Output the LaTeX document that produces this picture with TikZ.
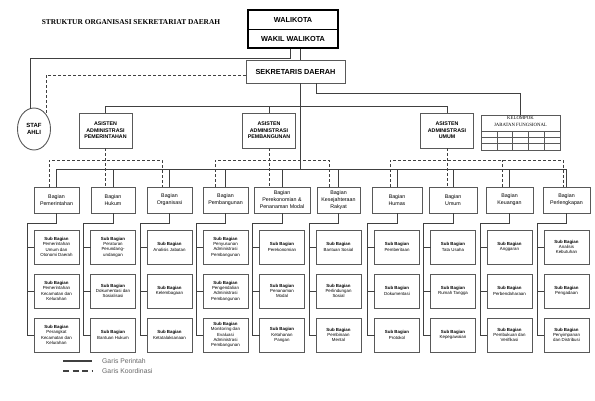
\documentclass[tikz,border=0pt]{standalone}
\usepackage{fontspec}
\setmainfont{Liberation Sans}
\newfontfamily\judulfont{Liberation Serif}
\usepackage{tikz}
\usetikzlibrary{
    shapes.geometric,
    positioning,
    calc,
    fit
}

\begin{document}
\begin{tikzpicture}[
    x=1pt, y=-1pt,
    every text node part/.style={align=center},
    box/.style={draw=black!65, line width=0.9pt, fill=white, inner sep=1.5pt, outer sep=0pt},
    kepala/.style={box, draw=black, line width=0.8pt, minimum width=90pt, minimum height=19pt, font=\fontsize{7.3}{8}\selectfont\bfseries},
    sekbox/.style={box, minimum width=99pt, minimum height=23pt, font=\fontsize{7.3}{8}\selectfont\bfseries},
    asbox/.style={box, minimum width=53pt, minimum height=35pt, font=\fontsize{5.3}{6.5}\selectfont\bfseries},
    bagbox/.style={box, minimum height=26pt, font=\fontsize{5.3}{7}\selectfont},
    subbox/.style={box, minimum width=45pt, minimum height=34pt, font=\fontsize{4.4}{5.4}\selectfont},
    perintah/.style={draw=black!75, line width=0.7pt},
    koordinasi/.style={perintah, dash pattern=on 3pt off 2pt},
    legenda/.style={text=black!60, font=\fontsize{6.8}{8}\selectfont, inner sep=0pt}
]
\useasboundingbox (0,0) rectangle (595,400);

% ==================== JUDUL ====================
\node[font=\judulfont\fontsize{7.4}{9}\selectfont\bfseries] (judul) at (131,22) {STRUKTUR ORGANISASI SEKRETARIAT DAERAH};

% ==================== KEPALA DAERAH ====================
\node[kepala] (walikota) at (293,19.5) {WALIKOTA};
\node[kepala, below=0pt of walikota] (wakil) {WAKIL WALIKOTA};
\node[draw=black, line width=2.4pt, inner sep=0pt, fit=(walikota)(wakil)] (kepala_daerah) {};

\node[sekbox] (sekda) at (295.5,71.5) {SEKRETARIS DAERAH};

\node[box, ellipse, minimum width=33pt, minimum height=42pt, inner sep=0pt, font=\fontsize{6}{7.5}\selectfont\bfseries] (staf_ahli) at (34,129) {STAF\\AHLI};

% ==================== ASISTEN ====================
\node[asbox] (asst_pem) at (105.5,130.5) {ASISTEN\\ADMINISTRASI\\PEMERINTAHAN};
\node[asbox] (asst_pbg) at (269,130.5) {ASISTEN\\ADMINISTRASI\\PEMBANGUNAN};
\node[asbox] (asst_umum) at (447,130.5) {ASISTEN\\ADMINISTRASI\\UMUM};

% kelompok jabatan fungsional
\node[box, minimum width=79pt, minimum height=35pt] (kel_jf) at (520.5,132.5) {};
\node[below=1pt of kel_jf.north, inner sep=0pt, font=\judulfont\fontsize{4.8}{7}\selectfont] (kjf_judul) {KELOMPOK\\JABATAN FUNGSIONAL};
\draw[draw=black!65, line width=0.6pt]
    ($(kel_jf.north west)+(0,16)$) -- ($(kel_jf.north east)+(0,16)$)
    ($(kel_jf.north west)+(0,22.3)$) -- ($(kel_jf.north east)+(0,22.3)$)
    ($(kel_jf.north west)+(0,28.6)$) -- ($(kel_jf.north east)+(0,28.6)$)
    ($(kel_jf.north west)+(15.8,16)$) -- ($(kel_jf.south west)+(15.8,0)$)
    ($(kel_jf.north west)+(31.6,16)$) -- ($(kel_jf.south west)+(31.6,0)$)
    ($(kel_jf.north west)+(47.4,16)$) -- ($(kel_jf.south west)+(47.4,0)$)
    ($(kel_jf.north west)+(63.2,16)$) -- ($(kel_jf.south west)+(63.2,0)$);

% ==================== BAGIAN ====================
\node[bagbox, minimum width=45pt] (bag_pem) at (56.5,200) {Bagian\\Pemerintahan};
\node[bagbox, minimum width=44pt, right=12pt of bag_pem] (bag_hukum) {Bagian\\Hukum};
\node[bagbox, minimum width=45pt, right=12pt of bag_hukum] (bag_org) {Bagian\\Organisasi};
\node[bagbox, minimum width=45pt, right=11pt of bag_org] (bag_pbg) {Bagian\\Pembangunan};
\node[bagbox, minimum width=56pt, right=6pt of bag_pbg] (bag_eko) {Bagian\\Perekonomian \&\\Penanaman Modal};
\node[bagbox, minimum width=43pt, right=7pt of bag_eko] (bag_kesra) {Bagian\\Kesejahteraan\\Rakyat};
\node[bagbox, minimum width=50pt, right=12pt of bag_kesra] (bag_humas) {Bagian\\Humas};
\node[bagbox, minimum width=48pt, right=7pt of bag_humas] (bag_umum) {Bagian\\Umum};
\node[bagbox, minimum width=47pt, right=9pt of bag_umum] (bag_keu) {Bagian\\Keuangan};
\node[bagbox, minimum width=47pt, right=10pt of bag_keu] (bag_perl) {Bagian\\Perlengkapan};

% ==================== SUB BAGIAN ====================
\node[subbox, below=17pt of bag_pem] (sub_pem1) {\textbf{Sub Bagian}\\Pemerintahan\\Umum dan\\Otonomi Daerah};
\node[subbox, below=10pt of sub_pem1] (sub_pem2) {\textbf{Sub Bagian}\\Pemerintahan\\Kecamatan dan\\Kelurahan};
\node[subbox, below=10pt of sub_pem2] (sub_pem3) {\textbf{Sub Bagian}\\Perangkat\\Kecamatan dan\\Kelurahan};

\node[subbox, below=17pt of bag_hukum] (sub_hukum1) {\textbf{Sub Bagian}\\Peraturan\\Perundang-\\undangan};
\node[subbox, below=10pt of sub_hukum1] (sub_hukum2) {\textbf{Sub Bagian}\\Dokumentasi dan\\Sosialisasi};
\node[subbox, below=10pt of sub_hukum2] (sub_hukum3) {\textbf{Sub Bagian}\\Bantuan Hukum};

\node[subbox, below=17pt of bag_org] (sub_org1) {\textbf{Sub Bagian}\\Analisis Jabatan};
\node[subbox, below=10pt of sub_org1] (sub_org2) {\textbf{Sub Bagian}\\Kelembagaan};
\node[subbox, below=10pt of sub_org2] (sub_org3) {\textbf{Sub Bagian}\\Ketatalaksanaan};

\node[subbox, below=17pt of bag_pbg] (sub_pbg1) {\textbf{Sub Bagian}\\Penyusunan\\Administrasi\\Pembangunan};
\node[subbox, below=10pt of sub_pbg1] (sub_pbg2) {\textbf{Sub Bagian}\\Pengendalian\\Administrasi\\Pembangunan};
\node[subbox, below=10pt of sub_pbg2] (sub_pbg3) {\textbf{Sub Bagian}\\Monitoring dan\\Evaluasi\\Administrasi\\Pembangunan};

\node[subbox, below=17pt of bag_eko] (sub_eko1) {\textbf{Sub Bagian}\\Perekonomian};
\node[subbox, below=10pt of sub_eko1] (sub_eko2) {\textbf{Sub Bagian}\\Penanaman\\Modal};
\node[subbox, below=10pt of sub_eko2] (sub_eko3) {\textbf{Sub Bagian}\\Ketahanan\\Pangan};

\node[subbox, below=17pt of bag_kesra] (sub_kesra1) {\textbf{Sub Bagian}\\Bantuan Sosial};
\node[subbox, below=10pt of sub_kesra1] (sub_kesra2) {\textbf{Sub Bagian}\\Perlindungan\\Sosial};
\node[subbox, below=10pt of sub_kesra2] (sub_kesra3) {\textbf{Sub Bagian}\\Pembinaan\\Mental};

\node[subbox, below=17pt of bag_humas] (sub_humas1) {\textbf{Sub Bagian}\\Pemberitaan};
\node[subbox, below=10pt of sub_humas1] (sub_humas2) {\textbf{Sub Bagian}\\Dokumentasi};
\node[subbox, below=10pt of sub_humas2] (sub_humas3) {\textbf{Sub Bagian}\\Protokol};

\node[subbox, below=17pt of bag_umum] (sub_umum1) {\textbf{Sub Bagian}\\Tata Usaha};
\node[subbox, below=10pt of sub_umum1] (sub_umum2) {\textbf{Sub Bagian}\\Rumah Tangga};
\node[subbox, below=10pt of sub_umum2] (sub_umum3) {\textbf{Sub Bagian}\\Kepegawaian};

\node[subbox, below=17pt of bag_keu] (sub_keu1) {\textbf{Sub Bagian}\\Anggaran};
\node[subbox, below=10pt of sub_keu1] (sub_keu2) {\textbf{Sub Bagian}\\Perbendaharaan};
\node[subbox, below=10pt of sub_keu2] (sub_keu3) {\textbf{Sub Bagian}\\Pembukuan dan\\Verifikasi};

\node[subbox, below=17pt of bag_perl] (sub_perl1) {\textbf{Sub Bagian}\\Analisis\\Kebutuhan};
\node[subbox, below=10pt of sub_perl1] (sub_perl2) {\textbf{Sub Bagian}\\Pengadaan};
\node[subbox, below=10pt of sub_perl2] (sub_perl3) {\textbf{Sub Bagian}\\Penyimpanan\\dan Distribusi};

% ==================== GARIS PERINTAH ====================
\coordinate (bus_asst) at (300,106);
\coordinate (bus_bag) at (300,169);
\coordinate (koord) at (0,160);

\draw[perintah] (kepala_daerah.south -| bus_bag) -- (sekda.north -| bus_bag);
\draw[perintah] ([xshift=-3pt]kepala_daerah.south) -- ++(0,9) -| (staf_ahli.100);
\draw[perintah] (sekda.south -| bus_bag) -- (bus_bag);
\draw[perintah] ([xshift=20.5pt]sekda.south) -- ++(0,10) -| (kel_jf.north);

\draw[perintah] (asst_pem.north |- bus_asst) -- (asst_umum.north |- bus_asst)
    (asst_pem.north) -- (asst_pem.north |- bus_asst)
    (asst_pbg.north) -- (asst_pbg.north |- bus_asst)
    (asst_umum.north) -- (asst_umum.north |- bus_asst);

\draw[perintah] (bag_pem.north |- bus_bag) -- (bag_perl.north |- bus_bag)
    (bag_pem.north) -- (bag_pem.north |- bus_bag)
    (bag_hukum.north) -- (bag_hukum.north |- bus_bag)
    (bag_org.north) -- (bag_org.north |- bus_bag)
    (bag_pbg.north) -- (bag_pbg.north |- bus_bag)
    (bag_eko.north) -- (bag_eko.north |- bus_bag)
    (bag_kesra.north) -- (bag_kesra.north |- bus_bag)
    (bag_humas.north) -- (bag_humas.north |- bus_bag)
    (bag_umum.north) -- (bag_umum.north |- bus_bag)
    (bag_keu.north) -- (bag_keu.north |- bus_bag)
    (bag_perl.north) -- (bag_perl.north |- bus_bag);

% bagian -> sub bagian
\draw[perintah] (bag_pem.south) -- ++(0,10) -| ([xshift=-7pt]sub_pem3.west) -- (sub_pem3.west)
    (sub_pem1.west) -- ++(-7,0) (sub_pem2.west) -- ++(-7,0);
\draw[perintah] (bag_hukum.south) -- ++(0,10) -| ([xshift=-7pt]sub_hukum3.west) -- (sub_hukum3.west)
    (sub_hukum1.west) -- ++(-7,0) (sub_hukum2.west) -- ++(-7,0);
\draw[perintah] (bag_org.south) -- ++(0,10) -| ([xshift=-7pt]sub_org3.west) -- (sub_org3.west)
    (sub_org1.west) -- ++(-7,0) (sub_org2.west) -- ++(-7,0);
\draw[perintah] (bag_pbg.south) -- ++(0,10) -| ([xshift=-7pt]sub_pbg3.west) -- (sub_pbg3.west)
    (sub_pbg1.west) -- ++(-7,0) (sub_pbg2.west) -- ++(-7,0);
\draw[perintah] (bag_eko.south) -- ++(0,10) -| ([xshift=-7pt]sub_eko3.west) -- (sub_eko3.west)
    (sub_eko1.west) -- ++(-7,0) (sub_eko2.west) -- ++(-7,0);
\draw[perintah] (bag_kesra.south) -- ++(0,10) -| ([xshift=-7pt]sub_kesra3.west) -- (sub_kesra3.west)
    (sub_kesra1.west) -- ++(-7,0) (sub_kesra2.west) -- ++(-7,0);
\draw[perintah] (bag_humas.south) -- ++(0,10) -| ([xshift=-7pt]sub_humas3.west) -- (sub_humas3.west)
    (sub_humas1.west) -- ++(-7,0) (sub_humas2.west) -- ++(-7,0);
\draw[perintah] (bag_umum.south) -- ++(0,10) -| ([xshift=-7pt]sub_umum3.west) -- (sub_umum3.west)
    (sub_umum1.west) -- ++(-7,0) (sub_umum2.west) -- ++(-7,0);
\draw[perintah] (bag_keu.south) -- ++(0,10) -| ([xshift=-7pt]sub_keu3.west) -- (sub_keu3.west)
    (sub_keu1.west) -- ++(-7,0) (sub_keu2.west) -- ++(-7,0);
\draw[perintah] (bag_perl.south) -- ++(0,10) -| ([xshift=-7pt]sub_perl3.west) -- (sub_perl3.west)
    (sub_perl1.west) -- ++(-7,0) (sub_perl2.west) -- ++(-7,0);

% ==================== GARIS KOORDINASI ====================
\draw[koordinasi] ([yshift=-3.5pt]sekda.west) -| (staf_ahli.50);

\draw[koordinasi] (asst_pem.south) -- (asst_pem.south |- bag_hukum.north);
\draw[koordinasi] ([xshift=-7.5pt]bag_pem.north) -- ([xshift=-7.5pt]bag_pem.north |- koord) -| ([xshift=-7.5pt]bag_org.north);

\draw[koordinasi] (asst_pbg.south) -- (asst_pbg.south |- bag_eko.north);
\draw[koordinasi] ([xshift=-10.5pt]bag_pbg.north) -- ([xshift=-10.5pt]bag_pbg.north |- koord) -| ([xshift=-9.5pt]bag_kesra.north);

\draw[koordinasi] (asst_umum.south) -- (asst_umum.south |- bag_umum.north);
\draw[koordinasi] ([xshift=-7pt]bag_humas.north) -- ([xshift=-7pt]bag_humas.north |- koord) -| ([xshift=-3pt]bag_perl.north);
\draw[koordinasi] ([xshift=-7.5pt]bag_keu.north) -- ([xshift=-7.5pt]bag_keu.north |- koord);

% ==================== LEGENDA ====================
\coordinate (lg_perintah) at (63,361);
\coordinate (lg_koordinasi) at (63,371);
\node[legenda, anchor=west] (lbl_perintah) at (102,361) {Garis Perintah};
\node[legenda, anchor=west] (lbl_koordinasi) at (102,371) {Garis Koordinasi};
\draw[perintah, line width=1.2pt] (lg_perintah) -- ++(29,0);
\draw[perintah, line width=1.2pt, dash pattern=on 6pt off 3.5pt] (lg_koordinasi) -- ++(29,0);

\end{tikzpicture}
\end{document}
